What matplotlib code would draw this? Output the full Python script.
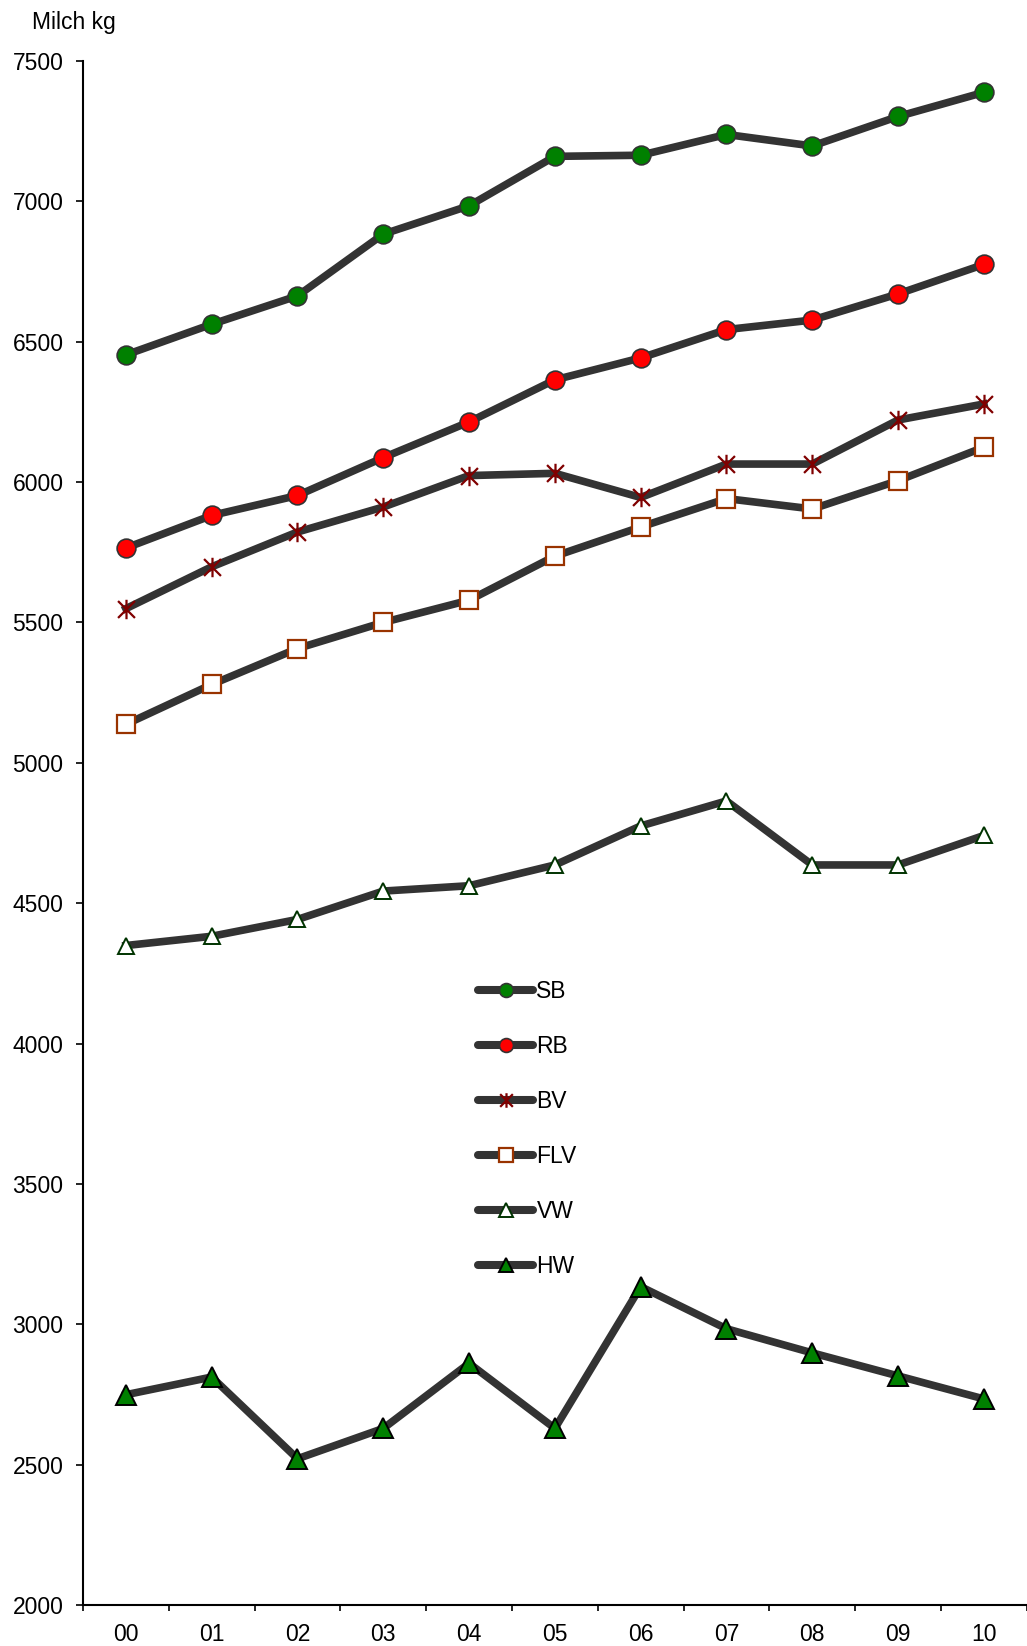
import matplotlib
matplotlib.use('Agg')
import matplotlib.pyplot as plt
import numpy as np
from matplotlib.path import Path
from matplotlib.lines import Line2D

matplotlib.rcParams['font.family'] = ['Liberation Sans', 'DejaVu Sans']

# Data
years = ['00', '01', '02', '03', '04', '05', '06', '07', '08', '09', '10']
sb = [6453, 6562, 6663, 6883, 6984, 7160, 7164, 7238, 7197, 7302, 7388]
rb = [5765, 5881, 5952, 6087, 6214, 6364, 6442, 6543, 6577, 6670, 6775]
bv = [5549, 5698, 5822, 5911, 6023, 6031, 5945, 6064, 6064, 6221, 6278]
flv = [5137, 5279, 5407, 5500, 5579, 5736, 5840, 5941, 5904, 6005, 6124]
vw = [4349, 4382, 4442, 4543, 4562, 4636, 4775, 4864, 4636, 4636, 4741]
hw = [2749, 2812, 2521, 2629, 2861, 2629, 3134, 2984, 2898, 2816, 2734]

# Excel-like "star" marker: an x with a vertical bar
star = Path([(-1, -1), (1, 1), (-1, 1), (1, -1), (0, -1.15), (0, 1.15)],
            [Path.MOVETO, Path.LINETO, Path.MOVETO, Path.LINETO,
             Path.MOVETO, Path.LINETO])

LINE = '#333333'
styles = [
    ('SB', sb, dict(marker='o', markersize=13.5, markerfacecolor='#008000',
                    markeredgecolor='#333333', markeredgewidth=1.2), 10),
    ('RB', rb, dict(marker='o', markersize=13.5, markerfacecolor='#ff0000',
                    markeredgecolor='#333333', markeredgewidth=1.2), 10),
    ('BV', bv, dict(marker=star, markersize=14, markerfacecolor='none',
                    markeredgecolor='#800000', markeredgewidth=1.6), 10.5),
    ('FLV', flv, dict(marker='s', markersize=13, markerfacecolor='white',
                      markeredgecolor='#993300', markeredgewidth=1.6), 10.5),
    ('VW', vw, dict(marker='^', markersize=11, markerfacecolor='white',
                    markeredgecolor='#003300', markeredgewidth=1.4), 10.5),
    ('HW', hw, dict(marker='^', markersize=14, markerfacecolor='#008000',
                    markeredgecolor='black', markeredgewidth=1.4), 10.5),
]

fig = plt.figure(figsize=(10.27, 16.46), dpi=100)
ax = fig.add_axes([0.0808, 0.0249, 0.919, 0.9381])

x = np.arange(len(years))
handles = []
for name, vals, mk, leg_ms in styles:
    ax.plot(x, vals, color=LINE, linewidth=5.5, solid_joinstyle='round', **mk)
    mk_leg = dict(mk)
    mk_leg['markersize'] = leg_ms
    handles.append(Line2D([], [], color=LINE, linewidth=5.8,
                          solid_capstyle='round', label=name, **mk_leg))

ax.set_xlim(-0.5, 10.5)
ax.set_ylim(2000, 7500)
ax.set_yticks(np.arange(2000, 7501, 500))
ax.set_xticks(np.arange(-0.5, 10.6, 1))
ax.set_xticklabels([])
ax.set_xticks(x, minor=True)
ax.set_xticklabels(years, minor=True)

for side in ['top', 'right']:
    ax.spines[side].set_visible(False)
for side in ['left', 'bottom']:
    ax.spines[side].set_linewidth(1.5)

ax.tick_params(axis='y', which='major', direction='out', length=5, width=1.2,
               labelsize=16.5, pad=9)
ax.tick_params(axis='x', which='major', direction='out', length=4.5, width=1.2)
ax.tick_params(axis='x', which='minor', length=0, labelsize=16.5, pad=13)

fig.text(0.031, 1 - 22 / 1646, 'Milch kg', fontsize=16.5, ha='left', va='center')

ax.legend(handles=handles, loc='upper left',
          bbox_to_anchor=(478 / 1027, 1 - 980 / 1646),
          bbox_transform=fig.transFigure, frameon=False, fontsize=16.5,
          handlelength=2.4, handletextpad=0.15, labelspacing=1.4,
          borderpad=0, borderaxespad=0)

fig.savefig('out.png', dpi=100)
